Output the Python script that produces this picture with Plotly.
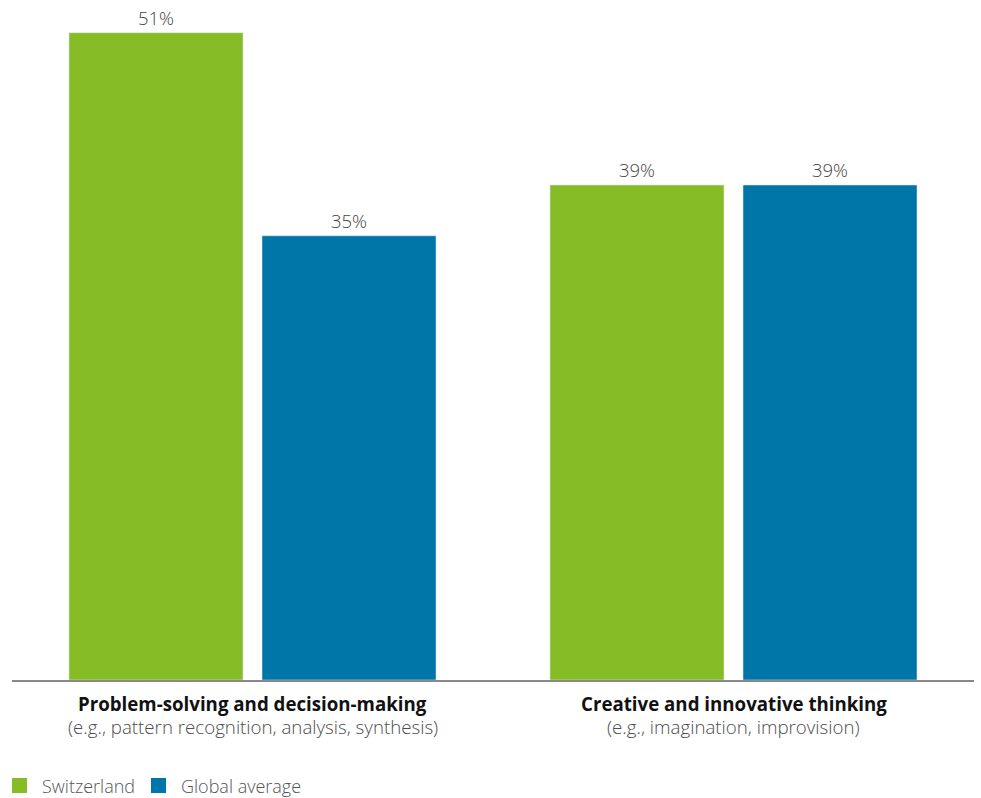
import plotly.graph_objects as go

# Skill categories and shares of respondents
categories = ["Problem-solving and decision-making", "Creative and innovative thinking"]
subtitles = ["(e.g., pattern recognition, analysis, synthesis)", "(e.g., imagination, improvision)"]
series_names = ["Switzerland", "Global average"]
switzerland = [51, 39]
global_avg = [35, 39]

GREEN = "#86BC25"
BLUE = "#0076A8"
FONT = "Open Sans"
colors = [GREEN, BLUE]

fig = go.Figure()
for name, vals, col in zip(series_names, [switzerland, global_avg], colors):
    fig.add_trace(go.Bar(
        x=categories, y=vals, name=name, marker_color=col,
        text=[f"{v}%" for v in vals], textposition="outside",
        textfont=dict(family=FONT, size=18.5, color="#444444", weight=300),
        cliponaxis=False, showlegend=False,
    ))

# Two-line category labels under the baseline
for cat, sub in zip(categories, subtitles):
    fig.add_annotation(x=cat, xref="x", y=0, yref="paper", yshift=-9, yanchor="top",
                       text=f"<b>{cat}</b>", showarrow=False,
                       font=dict(family=FONT, size=18.7, color="#111111"))
    fig.add_annotation(x=cat, xref="x", y=0, yref="paper", yshift=-32, yanchor="top",
                       text=sub, showarrow=False,
                       font=dict(family=FONT, size=18.7, color="#4d4d4d", weight=300))

# Legend keys drawn below the axis (pixel positions converted to paper units)
PLOT_L, PLOT_W, PLOT_T, PLOT_H = 12, 962, 20, 660


def px_x(p):
    return (p - PLOT_L) / PLOT_W


def px_y(p):
    return (PLOT_T + PLOT_H - p) / PLOT_H


key_x = [12, 151]
for name, col, kx in zip(series_names, colors, key_x):
    fig.add_shape(type="rect", xref="paper", yref="paper",
                  x0=px_x(kx), x1=px_x(kx + 15), y0=px_y(793), y1=px_y(778),
                  fillcolor=col, line=dict(width=0))
    fig.add_annotation(x=px_x(kx + 28), y=px_y(786), xref="paper", yref="paper",
                       xanchor="left", yanchor="middle", text=name, showarrow=False,
                       font=dict(family=FONT, size=18, color="#555555", weight=300))

fig.update_layout(
    width=981, height=798,
    margin=dict(l=PLOT_L, r=981 - PLOT_L - PLOT_W, t=PLOT_T, b=798 - PLOT_T - PLOT_H),
    plot_bgcolor="white", paper_bgcolor="white",
    barmode="group", bargap=0.1975, bargroupgap=0.0984,
    font=dict(family=FONT, color="#555555"),
    showlegend=False,
    xaxis=dict(showticklabels=False, showline=True, linecolor="#888888", linewidth=2,
               ticks="", showgrid=False, zeroline=False),
    yaxis=dict(range=[0, 52], visible=False, showgrid=False, zeroline=False),
)

fig.write_html("out.html")
